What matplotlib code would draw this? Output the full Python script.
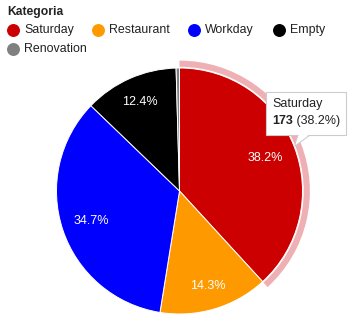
import math
import matplotlib
matplotlib.use("Agg")
import matplotlib.pyplot as plt
from matplotlib.patches import Wedge, Polygon, FancyBboxPatch

plt.rcParams['font.family'] = ['Liberation Sans', 'DejaVu Sans']

categories = ["Saturday", "Restaurant", "Workday", "Empty", "Renovation"]
counts = [173, 65, 157, 56, 2]
colors = ["#cc0000", "#ff9900", "#0000ff", "#000000", "#808080"]
legend_title = "Kategoria"

W, H = 356, 327
fig = plt.figure(figsize=(W / 100, H / 100), dpi=100)
fig.patch.set_facecolor("white")

# pie geometry in pixels
cx, cy, R = 179.5, 191, 123
lim = 1.1
side = 2 * R * lim
ax = fig.add_axes([(cx - side / 2) / W, (H - cy - side / 2) / H, side / W, side / H])
ax.set_aspect("equal")
ax.axis("off")

total = sum(counts)
wedges, _ = ax.pie(counts, colors=colors, startangle=90, counterclock=False,
                   radius=1.0, wedgeprops=dict(edgecolor="white", linewidth=0.7))
ax.set_xlim(-lim, lim)
ax.set_ylim(-lim, lim)

# percentage labels on slices large enough to hold them
label_r = [0.745, 0.81, 0.76, 0.79, 0.8]
for w, c, rr in zip(wedges, counts, label_r):
    frac = c / total
    if frac < 0.05:
        continue
    mid = math.radians((w.theta1 + w.theta2) / 2)
    ax.text(rr * math.cos(mid), rr * math.sin(mid), f"{100 * frac:.1f}%",
            color="white", fontsize=9, ha="center", va="center")

# highlight ring around the hovered slice
hw = wedges[0]
ring = Wedge((0, 0), 1.06, hw.theta1, hw.theta2, width=0.05,
             facecolor="#eeb0b4", edgecolor="none")
ax.add_patch(ring)

# legend
fig.text(7 / W, 1 - 12 / H, legend_title, fontsize=8.7, fontweight="bold",
         ha="left", va="center", color="#222222")
leg_pos = [(13, 30), (98, 30), (194, 30), (279, 30), (13, 49)]
for (x, y), name, col in zip(leg_pos, categories, colors):
    fig.add_artist(plt.Line2D([x / W], [1 - y / H], marker="o", markersize=8.3,
                              color=col, linestyle="none", transform=fig.transFigure))
    fig.text((x + 11) / W, 1 - y / H, name, fontsize=8.9, color="#222222",
             ha="left", va="center")

# tooltip for the first slice
bx0, by0, bx1, by1 = 266, 92, 346, 135
tip_pts = [(298, by1), (295, 146), (310, by1)]
tip = Polygon([(x / W, 1 - y / H) for x, y in tip_pts], closed=True,
              transform=fig.transFigure, facecolor="white", edgecolor="#cccccc",
              linewidth=0.8, zorder=5)
box = FancyBboxPatch((bx0 / W, 1 - by1 / H), (bx1 - bx0) / W, (by1 - by0) / H,
                     boxstyle="square,pad=0", transform=fig.transFigure,
                     facecolor="white", edgecolor="#cccccc", linewidth=0.8, zorder=6)
fig.add_artist(tip)
fig.add_artist(box)
cover_pts = [(298.8, by1 - 0.5), (295.6, 144.5), (309.2, by1 - 0.5)]
cover = Polygon([(x / W, 1 - y / H) for x, y in cover_pts], closed=True,
                transform=fig.transFigure, facecolor="white", edgecolor="none", zorder=7)
fig.add_artist(cover)
fig.text((bx0 + 6) / W, 1 - 104 / H, categories[0], fontsize=9, color="#222222",
         ha="left", va="center", zorder=8)
t1 = fig.text((bx0 + 6) / W, 1 - 121 / H, f"{counts[0]}", fontsize=9,
              fontweight="bold", color="#222222", ha="left", va="center", zorder=8)
fig.canvas.draw()
bb = t1.get_window_extent()
fig.text(bb.x1 / W, 1 - 121 / H, f" ({100 * counts[0] / total:.1f}%)", fontsize=9,
         color="#222222", ha="left", va="center", zorder=8)

fig.savefig("out.png", dpi=100, facecolor="white")
